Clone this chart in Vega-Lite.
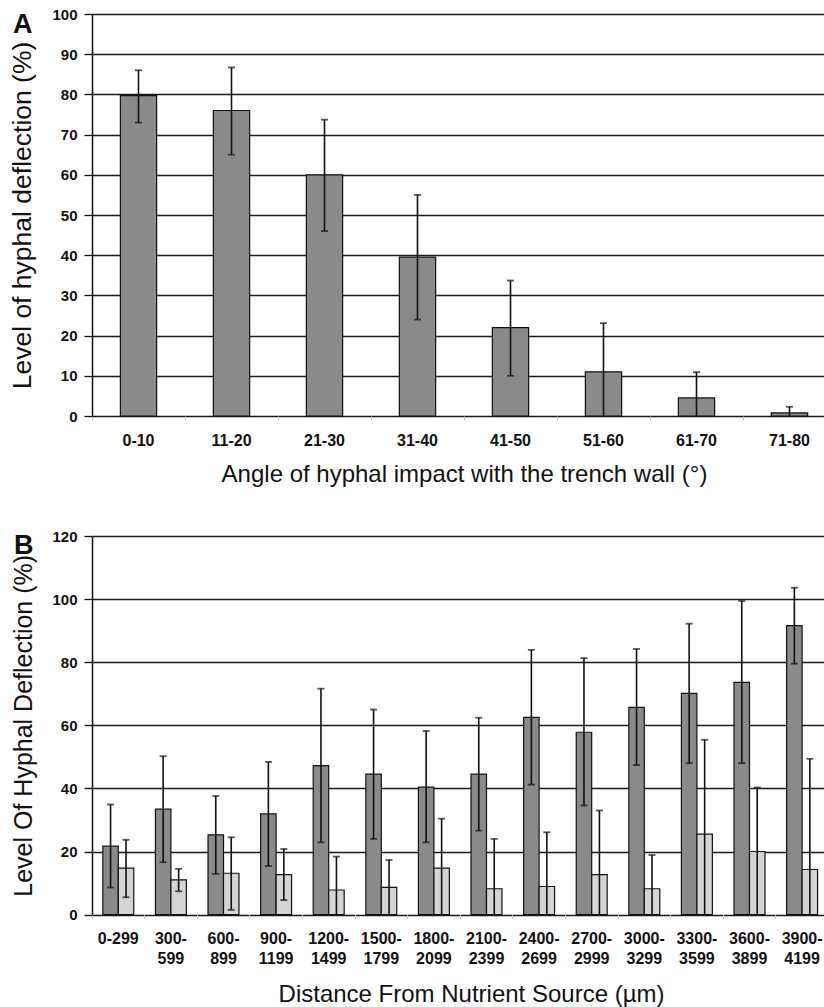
{
  "$schema": "https://vega.github.io/schema/vega-lite/v6.json",
  "padding": {"left": 9, "top": 7, "right": 0, "bottom": 0},
  "background": "white",
  "spacing": 43,
  "config": {
    "view": {"stroke": null},
    "font": "Liberation Sans",
    "axis": {
      "labelFont": "Liberation Sans",
      "titleFont": "Liberation Sans",
      "labelColor": "#111",
      "titleColor": "#111",
      "titleFontWeight": "normal"
    }
  },
  "datasets": {
    "a": [
      {"angle": "0-10", "v": 79.7, "lo": 73, "hi": 86},
      {"angle": "11-20", "v": 76, "lo": 65, "hi": 86.7},
      {"angle": "21-30", "v": 60, "lo": 46, "hi": 73.7},
      {"angle": "31-40", "v": 39.5, "lo": 24, "hi": 55},
      {"angle": "41-50", "v": 22, "lo": 10, "hi": 33.7},
      {"angle": "51-60", "v": 11, "lo": 0, "hi": 23.1},
      {"angle": "61-70", "v": 4.5, "lo": 0, "hi": 10.9},
      {"angle": "71-80", "v": 0.8, "lo": 0, "hi": 2.3}
    ],
    "b": [
      {"dist": "0-299", "series": "1", "v": 21.7, "lo": 8.6, "hi": 34.9},
      {"dist": "0-299", "series": "2", "v": 14.7, "lo": 5.5, "hi": 23.7},
      {"dist": "300-599", "series": "1", "v": 33.4, "lo": 16.6, "hi": 50.2},
      {"dist": "300-599", "series": "2", "v": 11, "lo": 7.4, "hi": 14.5},
      {"dist": "600-899", "series": "1", "v": 25.3, "lo": 12.9, "hi": 37.6},
      {"dist": "600-899", "series": "2", "v": 13.1, "lo": 1.5, "hi": 24.5},
      {"dist": "900-1199", "series": "1", "v": 31.9, "lo": 15.4, "hi": 48.4},
      {"dist": "900-1199", "series": "2", "v": 12.7, "lo": 4.6, "hi": 20.8},
      {"dist": "1200-1499", "series": "1", "v": 47.2, "lo": 22.9, "hi": 71.6},
      {"dist": "1200-1499", "series": "2", "v": 7.8, "lo": 0, "hi": 18.4},
      {"dist": "1500-1799", "series": "1", "v": 44.5, "lo": 24, "hi": 65},
      {"dist": "1500-1799", "series": "2", "v": 8.6, "lo": 0, "hi": 17.3},
      {"dist": "1800-2099", "series": "1", "v": 40.4, "lo": 22.9, "hi": 58.2},
      {"dist": "1800-2099", "series": "2", "v": 14.7, "lo": 0, "hi": 30.4},
      {"dist": "2100-2399", "series": "1", "v": 44.5, "lo": 26.6, "hi": 62.4},
      {"dist": "2100-2399", "series": "2", "v": 8.2, "lo": 0, "hi": 24},
      {"dist": "2400-2699", "series": "1", "v": 62.5, "lo": 41.2, "hi": 83.9},
      {"dist": "2400-2699", "series": "2", "v": 8.9, "lo": 0, "hi": 26.1},
      {"dist": "2700-2999", "series": "1", "v": 57.8, "lo": 34.6, "hi": 81.3},
      {"dist": "2700-2999", "series": "2", "v": 12.7, "lo": 0, "hi": 33},
      {"dist": "3000-3299", "series": "1", "v": 65.7, "lo": 47.4, "hi": 84.2},
      {"dist": "3000-3299", "series": "2", "v": 8.2, "lo": 0, "hi": 18.9},
      {"dist": "3300-3599", "series": "1", "v": 70.1, "lo": 48, "hi": 92.2},
      {"dist": "3300-3599", "series": "2", "v": 25.5, "lo": 0, "hi": 55.4},
      {"dist": "3600-3899", "series": "1", "v": 73.6, "lo": 48, "hi": 99.4},
      {"dist": "3600-3899", "series": "2", "v": 20, "lo": 0, "hi": 40.3},
      {"dist": "3900-4199", "series": "1", "v": 91.6, "lo": 79.5, "hi": 103.6},
      {"dist": "3900-4199", "series": "2", "v": 14.3, "lo": 0, "hi": 49.4}
    ]
  },
  "vconcat": [
    {
      "data": {"name": "a"},
      "width": 732,
      "height": 402,
      "title": {"text": "A", "anchor": "start", "frame": "group", "fontSize": 27, "fontWeight": "bold", "font": "Liberation Sans", "color": "#111", "baseline": "alphabetic", "offset": 0, "dx": -79, "dy": 53},
      "encoding": {
        "x": {
          "field": "angle", "type": "nominal", "sort": null,
          "scale": {"range": [0, 744], "paddingInner": 0, "paddingOuter": 0},
          "axis": {"title": "Angle of hyphal impact with the trench wall (°)", "labelAngle": 0, "domain": false, "grid": false, "bandPosition": 0, "tickColor": "#c8c8c8", "tickSize": 4, "labelFontSize": 16, "labelFontWeight": "bold", "labelPadding": 12, "titleFontSize": 24, "titlePadding": 14, "labelBound": false, "labelOverlap": false}
        }
      },
      "layer": [
        {
          "mark": {"type": "bar", "fill": "#8a8a8a", "stroke": "#111", "strokeWidth": 1.2, "width": {"band": 0.39}},
          "encoding": {
            "y": {"field": "v", "type": "quantitative", "scale": {"domain": [0, 100], "nice": false},
              "axis": {"title": "Level of hyphal deflection (%)", "values": [0,10,20,30,40,50,60,70,80,90,100], "grid": true, "gridColor": "#1a1a1a", "gridWidth": 1.3, "domainColor": "#111", "domainWidth": 1.5, "tickColor": "#111", "tickSize": 8, "tickWidth": 1.3, "labelFontSize": 15, "labelFontWeight": "bold", "labelPadding": 7, "titleFontSize": 26.5, "titlePadding": 15}}
          }
        },
        {
          "mark": {"type": "rule", "color": "#111", "strokeWidth": 1.6},
          "encoding": {"y": {"field": "lo", "type": "quantitative"}, "y2": {"field": "hi"}}
        },
        {
          "mark": {"type": "tick", "color": "#111", "size": 7, "thickness": 1.8},
          "encoding": {"y": {"field": "hi", "type": "quantitative"}}
        },
        {
          "transform": [{"filter": "datum.lo > 0"}],
          "mark": {"type": "tick", "color": "#111", "size": 7, "thickness": 1.8},
          "encoding": {"y": {"field": "lo", "type": "quantitative"}}
        }
      ]
    },
    {
      "data": {"name": "b"},
      "width": 731,
      "height": 378.6,
      "title": {"text": "B", "anchor": "start", "frame": "group", "fontSize": 27, "fontWeight": "bold", "font": "Liberation Sans", "color": "#111", "baseline": "alphabetic", "offset": 0, "dx": -78, "dy": 52},
      "encoding": {
        "x": {
          "field": "dist", "type": "nominal", "sort": null,
          "scale": {"range": [0, 736.4], "paddingInner": 0, "paddingOuter": 0},
          "axis": {"title": "Distance From Nutrient Source (µm)", "titleX": 379, "labelAngle": 0, "domain": false, "grid": false, "bandPosition": 0, "tickColor": "#c8c8c8", "tickSize": 4, "labelFontSize": 16, "labelFontWeight": "bold", "labelPadding": 12, "labelLineHeight": 20, "titleFontSize": 24, "titlePadding": 16, "labelBound": false, "labelOverlap": false,
            "labelExpr": "datum.value == '0-299' ? datum.value : [split(datum.value, '-')[0] + '-', split(datum.value, '-')[1]]"}
        },
        "xOffset": {"field": "series", "type": "nominal", "scale": {"domain": ["1", "2"], "paddingInner": 0, "paddingOuter": 0.7}}
      },
      "layer": [
        {
          "mark": {"type": "bar", "stroke": "#111", "strokeWidth": 1.2},
          "encoding": {
            "y": {"field": "v", "type": "quantitative", "scale": {"domain": [0, 120], "nice": false},
              "axis": {"title": "Level Of Hyphal Deflection (%)", "values": [0,20,40,60,80,100,120], "grid": true, "gridColor": "#1a1a1a", "gridWidth": 1.3, "domainColor": "#111", "domainWidth": 1.5, "tickColor": "#111", "tickSize": 8, "tickWidth": 1.3, "labelFontSize": 15, "labelFontWeight": "bold", "labelPadding": 7, "titleFontSize": 25, "titlePadding": 15}},
            "fill": {"field": "series", "type": "nominal", "scale": {"domain": ["1", "2"], "range": ["#8a8a8a", "#d4d4d4"]}, "legend": null}
          }
        },
        {
          "mark": {"type": "rule", "color": "#111", "strokeWidth": 1.6},
          "encoding": {"y": {"field": "lo", "type": "quantitative"}, "y2": {"field": "hi"}}
        },
        {
          "mark": {"type": "tick", "color": "#111", "size": 7, "thickness": 1.8},
          "encoding": {"y": {"field": "hi", "type": "quantitative"}}
        },
        {
          "transform": [{"filter": "datum.lo > 0"}],
          "mark": {"type": "tick", "color": "#111", "size": 7, "thickness": 1.8},
          "encoding": {"y": {"field": "lo", "type": "quantitative"}}
        }
      ]
    }
  ]
}
